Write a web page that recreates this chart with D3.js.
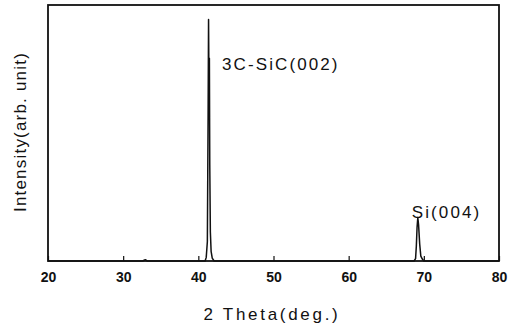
<!DOCTYPE html>
<html>
<head>
<meta charset="utf-8">
<script src="https://cdn.jsdelivr.net/npm/d3@7"></script>
<style>
  body { margin: 0; background: #fff; }
  text { font-family: "Liberation Sans", Arial, sans-serif; fill: #111; }
</style>
</head>
<body>
<svg id="chart" width="515" height="326"></svg>
<script>
// XRD scan: 2-theta (deg) and relative intensity
const twoTheta = [20, 32.6, 32.85, 33.0, 33.2, 40.9, 41.05, 41.2, 41.3, 41.36, 41.42, 41.47, 41.52, 41.6, 41.7, 41.85, 42.1, 68.7, 68.9, 69.0, 69.1, 69.2, 69.3, 69.45, 69.6, 69.8, 70.0, 80];
const intensity = [0, 0, 0.4, 0.5, 0, 0, 1.5, 8, 60, 100, 70, 84, 40, 12, 4, 1.2, 0, 0, 1, 6, 14, 18, 15, 7, 2, 0.8, 0, 0];
const xTicks = [20, 30, 40, 50, 60, 70, 80];
const peakLabels = [
  { text: "3C-SiC(002)", x: 43.15, y: 79 },
  { text: "Si(004)", x: 68.4, y: 17.6 }
];

const svg = d3.select("#chart");
const margin = { top: 5, right: 16, bottom: 65, left: 48 };
const width = 515 - margin.left - margin.right,
    height = 326 - margin.top - margin.bottom;

const x = d3.scaleLinear().domain([20, 80]).range([0, width]);
const y = d3.scaleLinear().domain([0, 106]).range([height, 0]);

const g = svg.append("g").attr("transform", "translate(" + margin.left + "," + margin.top + ")");

// frame
g.append("rect")
    .attr("width", width).attr("height", height)
    .attr("fill", "none").attr("stroke", "#111").attr("stroke-width", 1.8);

// x axis, ticks pointing inward
const xAxis = g.append("g")
    .attr("transform", "translate(0," + height + ")")
    .call(d3.axisBottom(x).tickValues(xTicks).tickSize(-5).tickPadding(11).tickFormat(d3.format("d")));
xAxis.select(".domain").remove();
xAxis.selectAll("line").attr("stroke", "#111").attr("stroke-width", 1.2);
xAxis.selectAll("text")
    .style("font-size", "14px").style("font-weight", "bold")
    .style("font-family", "'Liberation Sans', Arial, sans-serif").attr("fill", "#111");

const line = d3.line().x((d, i) => x(twoTheta[i])).y(d => y(d));
g.append("path")
    .datum(intensity)
    .attr("d", line)
    .attr("fill", "none").attr("stroke", "#111").attr("stroke-width", 1.5)
    .attr("stroke-linejoin", "round");

g.selectAll(".peak-label")
    .data(peakLabels)
    .enter().append("text")
    .attr("class", "peak-label")
    .attr("x", d => x(d.x))
    .attr("y", d => y(d.y))
    .style("font-size", "17px")
    .style("letter-spacing", "2.1px")
    .text(d => d.text);

// axis titles
svg.append("text")
    .attr("x", 272)
    .attr("y", 320)
    .attr("text-anchor", "middle")
    .style("font-size", "17px")
    .style("letter-spacing", "2.7px")
    .text("2 Theta(deg.)");

svg.append("text")
    .attr("transform", "translate(25.5,132) rotate(-90)")
    .attr("text-anchor", "middle")
    .style("font-size", "17px")
    .style("letter-spacing", "1.2px")
    .text("Intensity(arb. unit)");
</script>
</body>
</html>
